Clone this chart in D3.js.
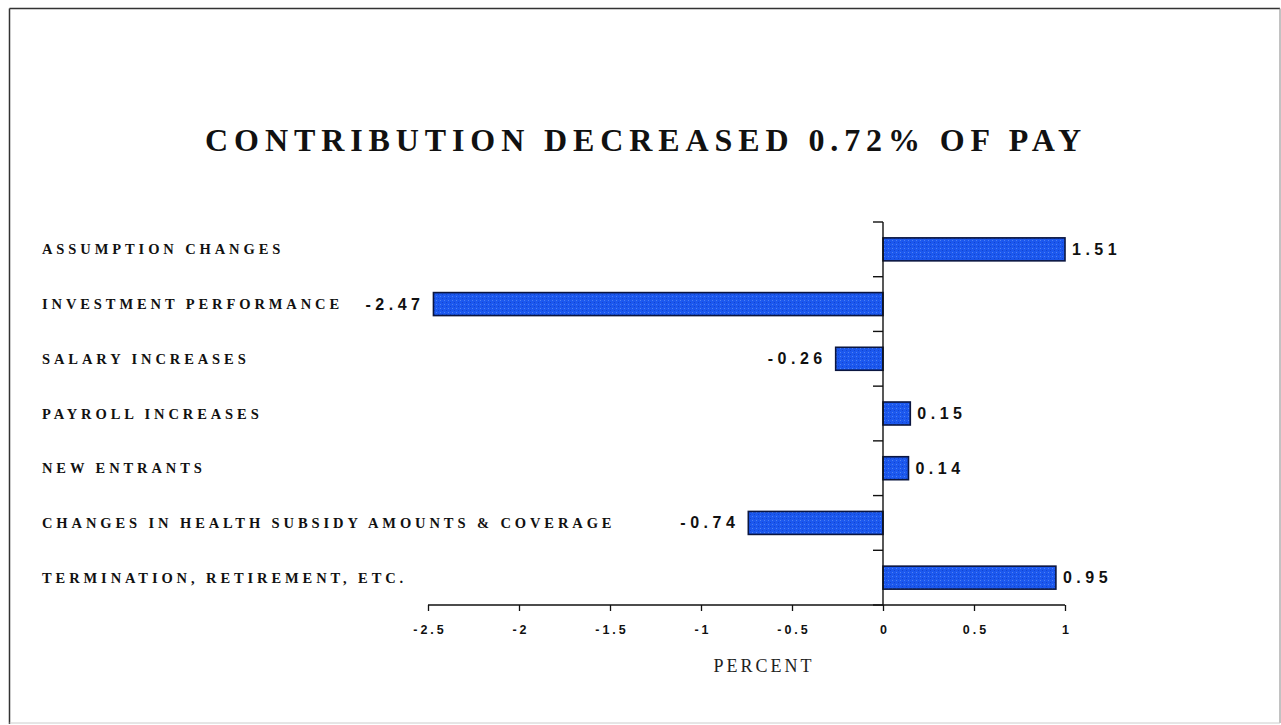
<!DOCTYPE html>
<html><head><meta charset="utf-8">
<script src="https://cdn.jsdelivr.net/npm/d3@7"></script>
<style>
html,body{margin:0;padding:0;background:#fff;}
svg{display:block;}
</style></head>
<body>
<svg id="chart" width="1281" height="725"></svg>
<script>
const categories = [
  "ASSUMPTION CHANGES",
  "INVESTMENT PERFORMANCE",
  "SALARY INCREASES",
  "PAYROLL INCREASES",
  "NEW ENTRANTS",
  "CHANGES IN HEALTH SUBSIDY AMOUNTS & COVERAGE",
  "TERMINATION, RETIREMENT, ETC."
];
const values = [1.51, -2.47, -0.26, 0.15, 0.14, -0.74, 0.95];
const valueLabels = ["1.51", "-2.47", "-0.26", "0.15", "0.14", "-0.74", "0.95"];
const xTicks = [-2.5, -2, -1.5, -1, -0.5, 0, 0.5, 1];
const xTickLabels = ["-2.5", "-2", "-1.5", "-1", "-0.5", "0", "0.5", "1"];
const title = "CONTRIBUTION DECREASED 0.72% OF PAY";
const xTitle = "PERCENT";

const svg = d3.select("#chart");
// frame
svg.append("line").attr("x1", 9.5).attr("y1", 8.5).attr("x2", 1280).attr("y2", 8.5).attr("stroke", "#333").attr("stroke-width", 1.5);
svg.append("line").attr("x1", 9.5).attr("y1", 8.5).attr("x2", 9.5).attr("y2", 724).attr("stroke", "#333").attr("stroke-width", 1.5);
svg.append("line").attr("x1", 1280).attr("y1", 8.5).attr("x2", 1280).attr("y2", 723).attr("stroke", "#999").attr("stroke-width", 1.2);
svg.append("line").attr("x1", 9.5).attr("y1", 723).attr("x2", 1280).attr("y2", 723).attr("stroke", "#ccc").attr("stroke-width", 1);

const x = d3.scaleLinear().domain([-2.5, 1]).range([428, 1065]).clamp(true);
const y = d3.scaleBand().domain(categories).range([222, 605]).paddingInner(0.58).paddingOuter(0.29);

// title
svg.append("text").attr("x", 646).attr("y", 151).attr("text-anchor", "middle")
  .attr("font-family", "Liberation Serif, Times New Roman, serif").attr("font-weight", "bold")
  .attr("font-size", 32).attr("letter-spacing", 5.9).attr("fill", "#111").text(title);

// bars
const defs = svg.append("defs");
const pat = defs.append("pattern").attr("id", "tex").attr("patternUnits", "userSpaceOnUse")
  .attr("width", 4).attr("height", 4);
pat.append("rect").attr("width", 4).attr("height", 4).attr("fill", "#1c58ee");
pat.append("rect").attr("x", 0).attr("y", 0).attr("width", 1).attr("height", 1).attr("fill", "#4f82f4");
pat.append("rect").attr("x", 2).attr("y", 2).attr("width", 1).attr("height", 1).attr("fill", "#1244d0");

svg.append("g").selectAll("rect").data(values).join("rect")
  .attr("x", d => Math.min(x(0), x(d)))
  .attr("y", (d, i) => y(categories[i]))
  .attr("width", d => Math.abs(x(d) - x(0)))
  .attr("height", y.bandwidth())
  .attr("fill", "url(#tex)").attr("stroke", "#0b1640").attr("stroke-width", 1.6);

// category labels
svg.append("g").selectAll("text").data(categories).join("text")
  .attr("x", 42).attr("y", d => y(d) + y.bandwidth() / 2 + 5)
  .attr("font-family", "Liberation Serif, Times New Roman, serif").attr("font-weight", "bold")
  .attr("font-size", 14.5).attr("letter-spacing", 3.9).attr("fill", "#111").text(d => d);

// value labels
svg.append("g").selectAll("text").data(values).join("text")
  .attr("x", d => d >= 0 ? x(d) + 7 : x(d) - 9)
  .attr("y", (d, i) => y(categories[i]) + y.bandwidth() / 2 + 5.5)
  .attr("text-anchor", d => d >= 0 ? "start" : "end")
  .attr("font-family", "Liberation Sans, Arial, sans-serif").attr("font-weight", "bold")
  .attr("font-size", 16).attr("letter-spacing", 4.5).attr("fill", "#111")
  .text((d, i) => valueLabels[i]);

// x axis
const xAxis = d3.axisBottom(x).tickValues(xTicks).tickSize(6).tickFormat((d, i) => xTickLabels[i]);
const gx = svg.append("g").attr("transform", "translate(0,605)").call(xAxis);
gx.select(".domain").attr("stroke", "#111").attr("stroke-width", 1.5).attr("d", "M428,0H1065");
gx.selectAll(".tick line").attr("stroke", "#111").attr("stroke-width", 1.3);
gx.selectAll(".tick text").attr("y", 29).attr("dy", 0).attr("dx", 1.5)
  .attr("font-family", "Liberation Sans, Arial, sans-serif").attr("font-weight", "bold")
  .attr("font-size", 12.5).attr("letter-spacing", 3).attr("fill", "#111");

// y axis at zero
const yTickPos = categories.map(c => y(c) - y.step() * y.paddingInner() / 2).concat([605]);
const gy = svg.append("g").attr("transform", `translate(${x(0)},0)`);
gy.append("line").attr("x1", 0).attr("x2", 0).attr("y1", 222).attr("y2", 605).attr("stroke", "#111").attr("stroke-width", 1.4);
gy.selectAll("line.t").data(yTickPos).join("line").attr("class", "t")
  .attr("x1", -10).attr("x2", 0).attr("y1", d => d).attr("y2", d => d)
  .attr("stroke", "#111").attr("stroke-width", 1.4);

// x title
svg.append("text").attr("x", 764).attr("y", 672).attr("text-anchor", "middle")
  .attr("font-family", "Liberation Serif, Times New Roman, serif")
  .attr("font-size", 18).attr("letter-spacing", 3).attr("fill", "#222").text(xTitle);
</script>
</body></html>
